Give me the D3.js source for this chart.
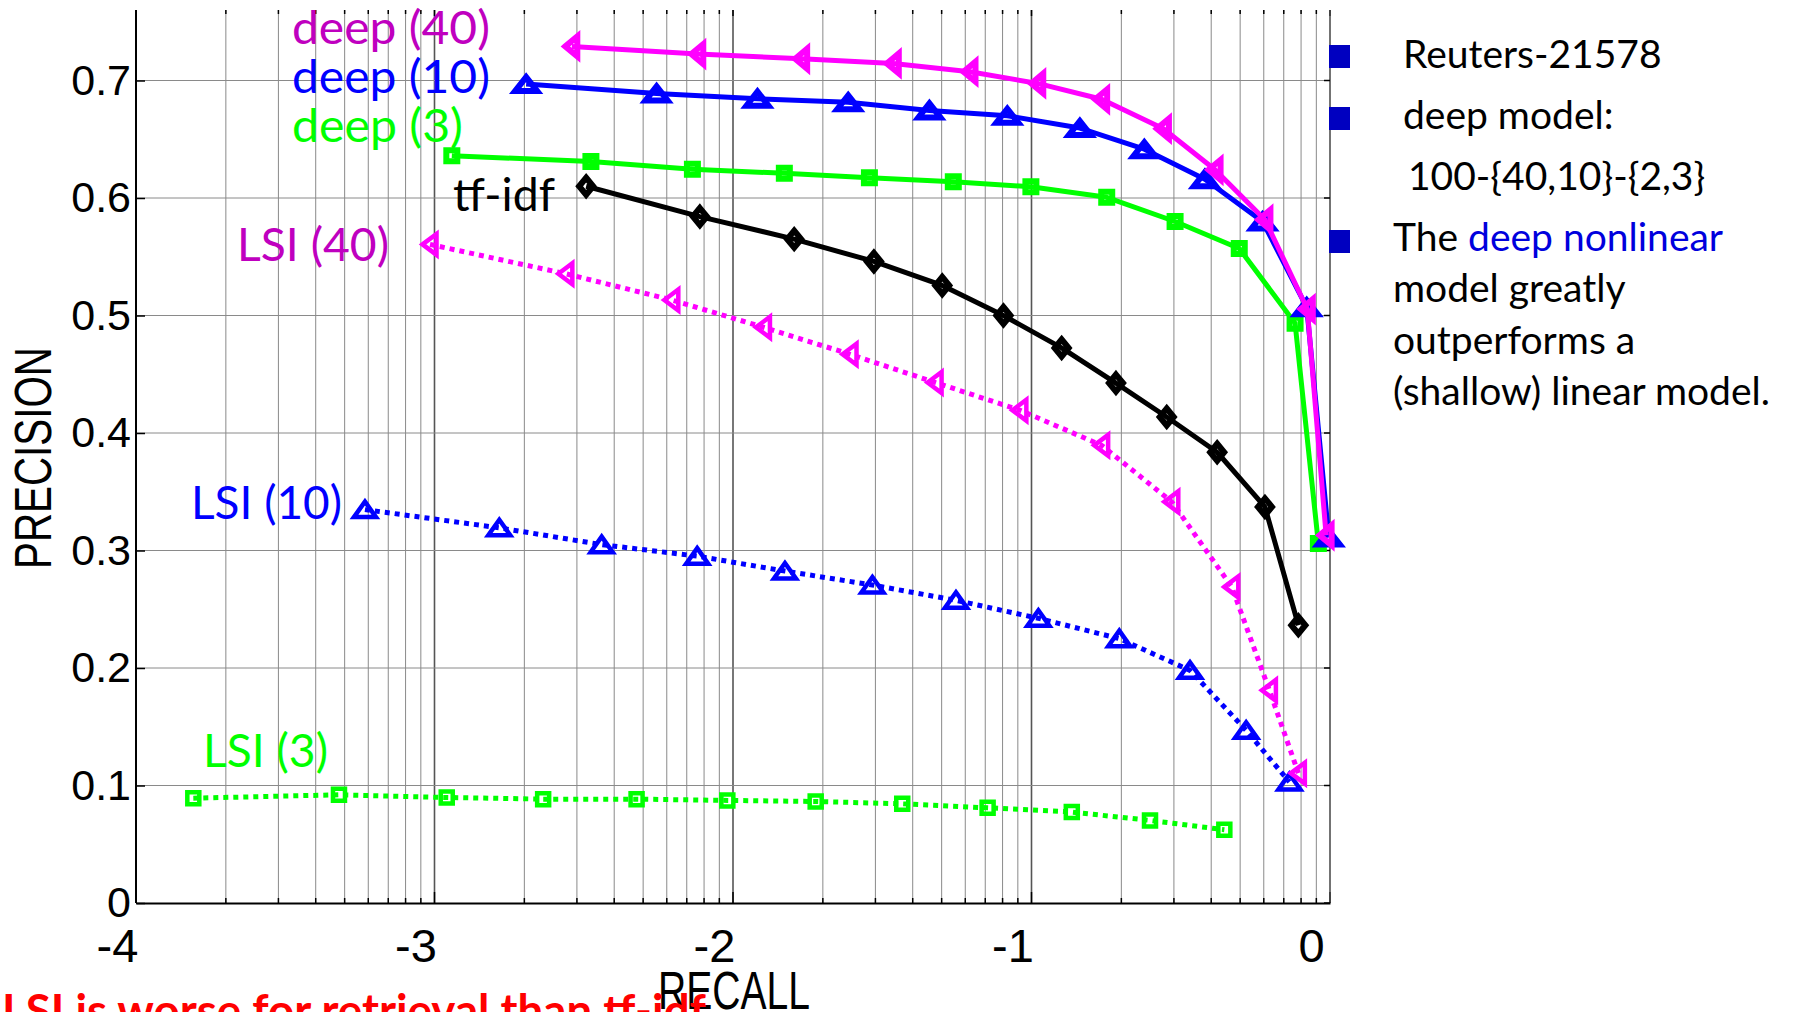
<!DOCTYPE html>
<html>
<head>
<meta charset="utf-8">
<script src="https://cdn.jsdelivr.net/npm/d3@7"></script>
<style>
  html, body { margin: 0; padding: 0; background: #fff; overflow: hidden; }
  svg { display: block; }
</style>
</head>
<body>
<div id="chart"></div>
<script>
// x values are log10(recall), y values are precision
const deep40X = [-2.54, -2.118, -1.77, -1.463, -1.206, -0.979, -0.765, -0.558, -0.385, -0.218, -0.076, -0.013];
const deep40Y = [0.729, 0.7225, 0.7185, 0.7145, 0.7075, 0.6975, 0.684, 0.659, 0.624, 0.5815, 0.5055, 0.313];

const deep10X = [-2.693, -2.256, -1.918, -1.614, -1.342, -1.081, -0.838, -0.622, -0.419, -0.226, -0.078, -0.004];
const deep10Y = [0.697, 0.689, 0.6845, 0.6815, 0.6745, 0.67, 0.6595, 0.6415, 0.616, 0.58, 0.507, 0.311];

const deep3X = [-2.942, -2.476, -2.136, -1.828, -1.543, -1.262, -1.002, -0.748, -0.519, -0.304, -0.117, -0.039];
const deep3Y = [0.636, 0.631, 0.6245, 0.621, 0.6172, 0.6138, 0.6095, 0.6006, 0.58, 0.557, 0.4935, 0.306];

const tfidfX = [-2.492, -2.111, -1.795, -1.528, -1.299, -1.094, -0.899, -0.717, -0.547, -0.378, -0.218, -0.106];
const tfidfY = [0.61, 0.5842, 0.565, 0.546, 0.5256, 0.5, 0.4724, 0.4425, 0.4136, 0.3836, 0.3371, 0.2364];

const lsi40X = [-3.015, -2.56, -2.205, -1.898, -1.608, -1.323, -1.039, -0.765, -0.53, -0.329, -0.203, -0.106];
const lsi40Y = [0.5605, 0.5355, 0.5132, 0.49, 0.467, 0.443, 0.4194, 0.3895, 0.3414, 0.269, 0.181, 0.1105];

const lsi10X = [-3.233, -2.783, -2.44, -2.12, -1.826, -1.533, -1.253, -0.977, -0.706, -0.469, -0.281, -0.136];
const lsi10Y = [0.3348, 0.3193, 0.305, 0.2952, 0.2825, 0.2706, 0.2576, 0.2423, 0.225, 0.198, 0.147, 0.103];

const lsi3X = [-3.808, -3.32, -2.959, -2.636, -2.323, -2.019, -1.723, -1.433, -1.147, -0.865, -0.603, -0.354];
const lsi3Y = [0.0892, 0.0921, 0.0898, 0.0884, 0.0884, 0.0873, 0.0864, 0.0844, 0.081, 0.0774, 0.0703, 0.0624];

const xTickValues = [-4, -3, -2, -1, 0];
const xTickLabels = ["-4", "-3", "-2", "-1", "0"];
const yTickValues = [0, 0.1, 0.2, 0.3, 0.4, 0.5, 0.6, 0.7];
const yTickLabels = ["0", "0.1", "0.2", "0.3", "0.4", "0.5", "0.6", "0.7"];

const notes = ["Reuters-21578", "deep model:", "100-{40,10}-{2,3}"];
const summary = ["model greatly", "outperforms a", "(shallow) linear model."];

// Size of the page
const W = 1794, H = 1012;
const plot = {left: 136, right: 1330, top: 10, bottom: 903};

const svg = d3.select("#chart").append("svg").attr("width", W).attr("height", H);

const x = d3.scaleLinear().domain([-4, 0]).range([plot.left, plot.right]);
const y = d3.scaleLinear().domain([0, 0.76]).range([plot.bottom, plot.top]);

// log grid positions inside each decade
const gridX = [];
for (let d = -4; d < 0; d++) {
  for (let k = 1; k <= 9; k++) gridX.push({v: d + Math.log10(k), major: k === 1});
}
gridX.push({v: 0, major: true});

const grid = svg.append("g");
grid.selectAll("line.vx")
  .data(gridX.filter((g) => g.v > -4 && g.v < 0))
  .enter().append("line")
  .attr("x1", (d) => x(d.v)).attr("x2", (d) => x(d.v))
  .attr("y1", plot.top).attr("y2", plot.bottom)
  .attr("stroke", (d) => (d.major ? "#555" : "#8a8a8a"))
  .attr("stroke-width", (d) => (d.major ? 1.6 : 1));

grid.selectAll("line.hy")
  .data(yTickValues.filter((v) => v > 0))
  .enter().append("line")
  .attr("x1", plot.left).attr("x2", plot.right)
  .attr("y1", (d) => y(d)).attr("y2", (d) => y(d))
  .attr("stroke", "#8a8a8a")
  .attr("stroke-width", 1);

// top ticks (hanging down) and bottom minor ticks (pointing up)
grid.selectAll("line.tt")
  .data(gridX)
  .enter().append("line")
  .attr("x1", (d) => x(d.v)).attr("x2", (d) => x(d.v))
  .attr("y1", plot.top).attr("y2", (d) => plot.top + (d.major ? 6 : 4))
  .attr("stroke", "#000").attr("stroke-width", 1.5);

grid.selectAll("line.bt")
  .data(gridX)
  .enter().append("line")
  .attr("x1", (d) => x(d.v)).attr("x2", (d) => x(d.v))
  .attr("y1", plot.bottom).attr("y2", (d) => plot.bottom - (d.major ? 11 : 5))
  .attr("stroke", "#000").attr("stroke-width", 1.5);

// right edge line at recall = 1
svg.append("line")
  .attr("x1", x(0)).attr("x2", x(0))
  .attr("y1", plot.top).attr("y2", plot.bottom)
  .attr("stroke", "#444").attr("stroke-width", 1.5);
svg.selectAll("line.rt")
  .data(yTickValues)
  .enter().append("line")
  .attr("x1", x(0)).attr("x2", x(0) - 6)
  .attr("y1", (d) => y(d)).attr("y2", (d) => y(d))
  .attr("stroke", "#000").attr("stroke-width", 1.5);

// Y axis
svg.append("g")
  .attr("transform", `translate(${plot.left},0)`)
  .call(
    d3.axisLeft(y)
      .tickValues(yTickValues)
      .tickFormat((d, i) => yTickLabels[i])
      .tickSizeInner(-9)
      .tickSizeOuter(0)
      .tickPadding(5)
  )
  .call((g) => g.select(".domain").attr("stroke", "#000").attr("stroke-width", 2).attr("d", `M0,${plot.top}V${plot.bottom}`))
  .call((g) => g.selectAll(".tick line").attr("stroke", "#000").attr("stroke-width", 1.5))
  .call((g) => g.selectAll(".tick text")
    .style("font-family", "'Liberation Sans', Arial, sans-serif")
    .style("font-size", "43px")
    .attr("fill", "#000"));

// X axis
svg.append("g")
  .attr("transform", `translate(0,${plot.bottom})`)
  .call(
    d3.axisBottom(x)
      .tickValues(xTickValues)
      .tickFormat((d, i) => xTickLabels[i])
      .tickSizeInner(0)
      .tickSizeOuter(0)
      .tickPadding(26)
  )
  .call((g) => g.select(".domain").attr("stroke", "#000").attr("stroke-width", 2.2))
  .call((g) => g.selectAll(".tick text")
    .attr("dx", -19)
    .style("font-family", "'Liberation Sans', Arial, sans-serif")
    .style("font-size", "47px")
    .attr("fill", "#000"));

// axis titles (condensed)
svg.append("text")
  .attr("x", 658).attr("y", 1009)
  .attr("textLength", 152).attr("lengthAdjust", "spacingAndGlyphs")
  .style("font-family", "'Liberation Sans', Arial, sans-serif")
  .style("font-size", "54px")
  .text("RECALL");

svg.append("text")
  .attr("transform", "translate(51,569) rotate(-90)")
  .attr("textLength", 222).attr("lengthAdjust", "spacingAndGlyphs")
  .style("font-family", "'Liberation Sans', Arial, sans-serif")
  .style("font-size", "52px")
  .text("PRECISION");

// markers: solid (deep, tf-idf) lines get small heavy markers, dotted (LSI) lines open ones
const solidMarkers = {
  square: "M-5.5,-5.5H5.5V5.5H-5.5Z",
  diamond: "M0,-8.5L7,0L0,8.5L-7,0Z",
  up: "M0,-7L11,7H-11Z",
  left: "M-6.5,0L5.5,-10V10Z",
};
const dottedMarkers = {
  square: "M-6,-6H6V6H-6Z",
  diamond: "M0,-8.5L7.5,0L0,8.5L-7.5,0Z",
  up: "M0,-8L11,7.5H-11Z",
  left: "M-7.5,0L6.5,-10.5V10.5Z",
};

const series = [
  {xs: lsi3X, ys: lsi3Y, color: "#00ff00", dotted: true, marker: "square"},
  {xs: lsi10X, ys: lsi10Y, color: "#0000ff", dotted: true, marker: "up"},
  {xs: lsi40X, ys: lsi40Y, color: "#ff00ff", dotted: true, marker: "left"},
  {xs: tfidfX, ys: tfidfY, color: "#000000", dotted: false, marker: "diamond"},
  {xs: deep3X, ys: deep3Y, color: "#00ff00", dotted: false, marker: "square"},
  {xs: deep10X, ys: deep10Y, color: "#0000ff", dotted: false, marker: "up"},
  {xs: deep40X, ys: deep40Y, color: "#ff00ff", dotted: false, marker: "left"},
];

const line = d3.line().x((d) => x(d[0])).y((d) => y(d[1]));

series.forEach((s) => {
  const pts = s.xs.map((v, i) => [v, s.ys[i]]);
  svg.append("path")
    .datum(pts)
    .attr("fill", "none")
    .attr("stroke", s.color)
    .attr("stroke-width", 5)
    .attr("stroke-dasharray", s.dotted ? "5,5" : null)
    .attr("stroke-linejoin", "round")
    .attr("d", line);

  svg.selectAll(null)
    .data(pts)
    .enter().append("path")
    .attr("transform", (d) => `translate(${x(d[0])},${y(d[1])})`)
    .attr("d", (s.dotted ? dottedMarkers : solidMarkers)[s.marker])
    .attr("fill", "none")
    .attr("stroke", s.color)
    .attr("stroke-linejoin", "miter")
    .attr("stroke-width", s.dotted ? 4.5 : 6);
});

// series labels
const labels = [
  {text: "deep (40)", x: 292, y: 44, w: 198, color: "#bf00bf"},
  {text: "deep (10)", x: 292, y: 93, w: 198, color: "#0000ff"},
  {text: "deep (3)", x: 292, y: 142, w: 171, color: "#00ff00"},
  {text: "tf-idf", x: 453, y: 211, w: 102, color: "#000000"},
  {text: "LSI (40)", x: 237, y: 261, w: 152, color: "#bf00bf"},
  {text: "LSI (10)", x: 191, y: 519, w: 151, color: "#0000ff"},
  {text: "LSI (3)", x: 203, y: 767, w: 125, color: "#00ff00"},
];
svg.selectAll(null)
  .data(labels)
  .enter().append("text")
  .attr("x", (d) => d.x).attr("y", (d) => d.y)
  .attr("textLength", (d) => d.w).attr("lengthAdjust", "spacingAndGlyphs")
  .attr("fill", (d) => d.color)
  .style("font-family", "Lato, 'Open Sans', sans-serif")
  .style("font-size", "47px")
  .text((d) => d.text);

// bullet notes on the right
const bulletY = [45, 107, 230];
svg.selectAll(null)
  .data(bulletY)
  .enter().append("rect")
  .attr("x", 1329).attr("y", (d) => d)
  .attr("width", 21).attr("height", 23)
  .attr("fill", "#0000c0");

const noteFont = (sel) => sel.style("font-family", "Lato, 'Open Sans', sans-serif").style("font-size", "39px").attr("fill", "#000");

svg.append("text").attr("x", 1403).attr("y", 68).call(noteFont).text(notes[0]);
svg.append("text").attr("x", 1403).attr("y", 129).call(noteFont).text(notes[1]);
svg.append("text").attr("x", 1408).attr("y", 190).call(noteFont).text(notes[2]);

const t4 = svg.append("text").attr("x", 1393).attr("y", 251).call(noteFont);
t4.append("tspan").text("The ");
t4.append("tspan").attr("fill", "#0000dd").text("deep nonlinear");

svg.selectAll(null)
  .data(summary)
  .enter().append("text")
  .attr("x", 1393).attr("y", (d, i) => 302 + i * 51.5)
  .call(noteFont)
  .text((d) => d);

// red caption at the bottom (cut by the page edge)
svg.append("text")
  .attr("x", 2).attr("y", 1027)
  .attr("textLength", 704).attr("lengthAdjust", "spacingAndGlyphs")
  .attr("fill", "#ff0000")
  .style("font-family", "Lato, 'Open Sans', sans-serif")
  .style("font-weight", "bold")
  .style("font-size", "45px")
  .text("LSI is worse for retrieval than tf-idf");
</script>
</body>
</html>
